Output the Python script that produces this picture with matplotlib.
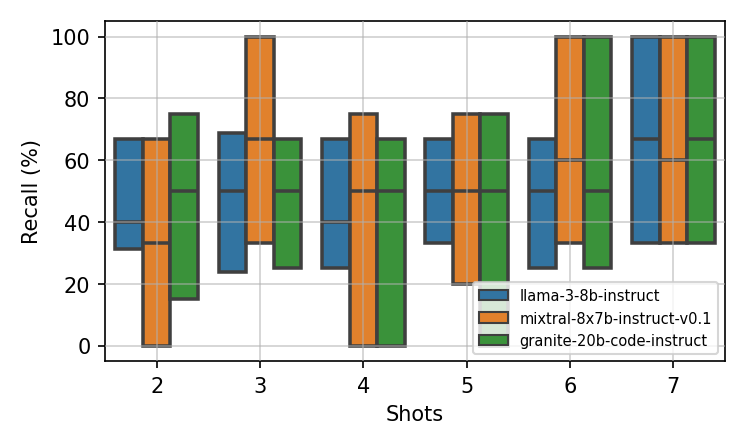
import matplotlib
matplotlib.use("Agg")
import matplotlib.pyplot as plt
from matplotlib.patches import Patch

shots = [2, 3, 4, 5, 6, 7]
models = ["llama-3-8b-instruct", "mixtral-8x7b-instruct-v0.1", "granite-20b-code-instruct"]
colors = ["#3274a1", "#e1812c", "#3a923a"]

# per model: (q1, median, q3) for each shot
llama_q1 = [31.2, 23.8, 25.0, 33.3, 25.0, 33.3]
llama_med = [40.0, 50.0, 40.0, 50.0, 50.0, 66.7]
llama_q3 = [66.7, 68.8, 66.7, 66.7, 66.7, 100.0]

mixtral_q1 = [0.0, 33.3, 0.0, 20.0, 33.3, 33.3]
mixtral_med = [33.3, 66.7, 50.0, 50.0, 60.0, 60.0]
mixtral_q3 = [66.7, 100.0, 75.0, 75.0, 100.0, 100.0]

granite_q1 = [15.0, 25.0, 0.0, 0.0, 25.0, 33.3]
granite_med = [50.0, 50.0, 50.0, 50.0, 50.0, 66.7]
granite_q3 = [75.0, 66.7, 66.7, 75.0, 100.0, 100.0]

series = [
    (llama_q1, llama_med, llama_q3),
    (mixtral_q1, mixtral_med, mixtral_q3),
    (granite_q1, granite_med, granite_q3),
]

edge = "#3f3f3f"
fig = plt.figure(figsize=(4.98, 2.993), dpi=150)
ax = fig.add_axes([0.1406, 0.1938, 0.8299, 0.7572])

width = 0.8 / 3
for k, (q1s, meds, q3s) in enumerate(series):
    stats = []
    for q1, m, q3 in zip(q1s, meds, q3s):
        stats.append(dict(q1=q1, med=m, q3=q3, whislo=q1, whishi=q3, fliers=[]))
    positions = [i - 0.4 + width * (k + 0.5) for i in range(len(shots))]
    ax.bxp(stats, positions=positions, widths=width, patch_artist=True,
           showfliers=False, showcaps=False,
           boxprops=dict(facecolor=colors[k], edgecolor=edge, linewidth=1.7),
           medianprops=dict(color=edge, linewidth=1.7),
           whiskerprops=dict(color=edge, linewidth=1.7),
           manage_ticks=False)

ax.set_xticks(range(len(shots)))
ax.set_xticklabels([str(s) for s in shots])
ax.set_xlim(-0.5, len(shots) - 0.5)
ax.set_ylim(-5, 105)
ax.set_yticks([0, 20, 40, 60, 80, 100])
ax.set_axisbelow(False)
ax.grid(True, color="#b0b0b0", linewidth=0.8, alpha=0.6, zorder=5)
ax.set_xlabel("Shots")
ax.set_ylabel("Recall (%)")

handles = [Patch(facecolor=c, edgecolor=edge, linewidth=1.0, label=m) for c, m in zip(colors, models)]
leg = ax.legend(handles=handles, loc="lower right", fontsize=7)
leg.set_zorder(10)

fig.savefig("out.png", dpi=150)
